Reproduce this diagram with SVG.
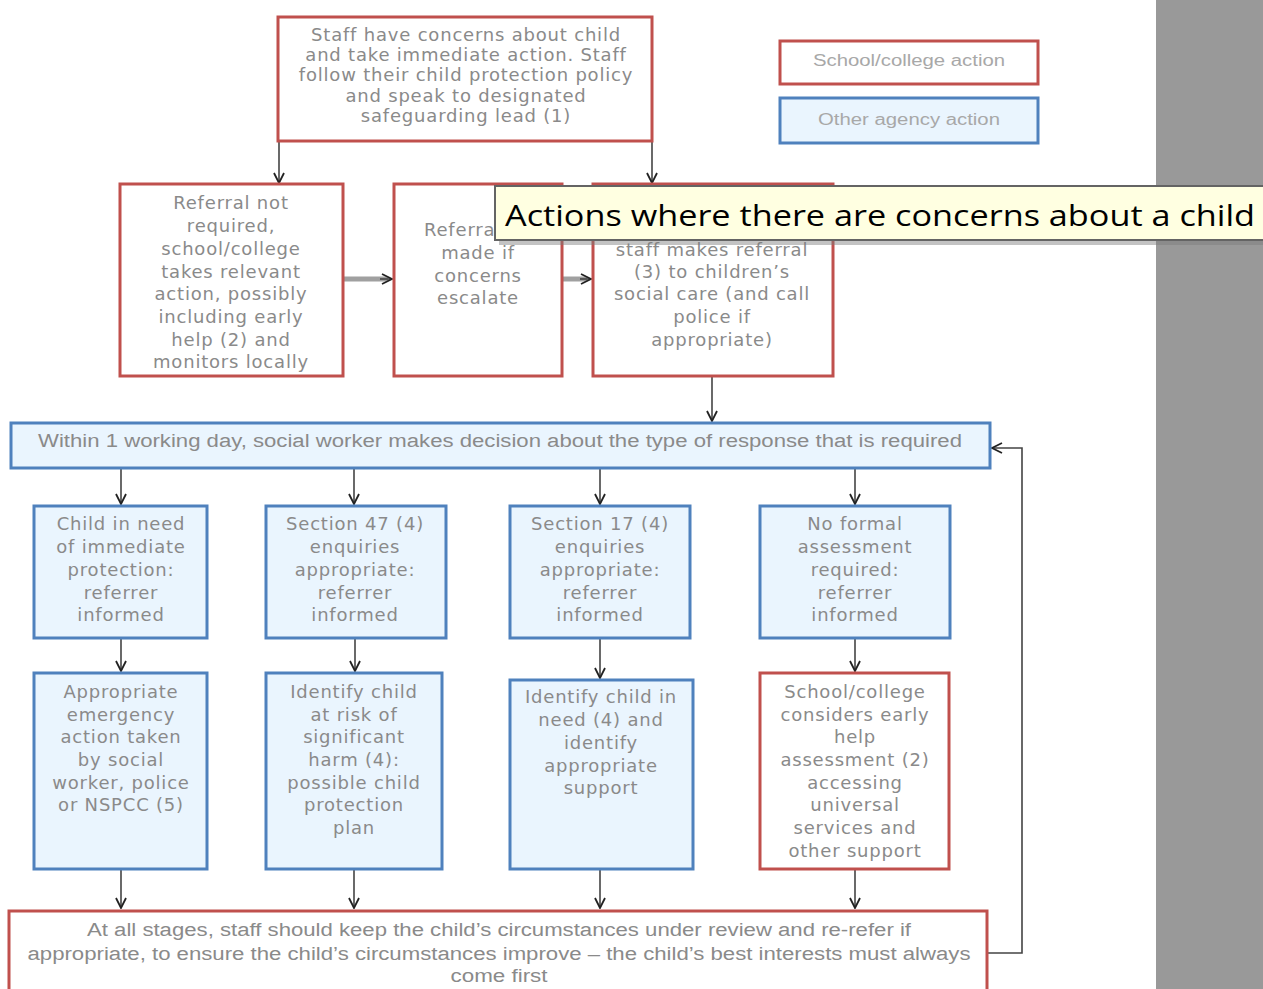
<svg xmlns="http://www.w3.org/2000/svg" width="1263" height="989" viewBox="0 0 1263 989">
<style>
.red{fill:#ffffff;stroke:#c0504d;stroke-width:3}
.blue{fill:#eaf5fe;stroke:#4f81bd;stroke-width:3}
.t{font-family:"DejaVu Sans",Verdana,sans-serif;font-size:18px;letter-spacing:0.8px;fill:#8a8a8a;text-anchor:middle}
.n{font-family:"Liberation Sans",Arial,sans-serif;font-size:18px;fill:#8a8a8a;text-anchor:middle}
.lg{font-family:"Liberation Sans",Arial,sans-serif;font-size:16px;fill:#a8a8a8;text-anchor:middle}
.c{fill:none;stroke:#444;stroke-width:1.6}
.thick{fill:none;stroke:#a0a0a0;stroke-width:5}
.tip{font-family:"Open Sans","DejaVu Sans",sans-serif;font-size:30px;fill:#000}
</style>
<defs>
<marker id="ah" viewBox="0 0 12 12" refX="11" refY="6" markerWidth="12" markerHeight="12" markerUnits="userSpaceOnUse" orient="auto">
<path d="M1,1 L11,6 L1,11" fill="none" stroke="#222" stroke-width="1.8"/>
</marker>
</defs>
<rect width="1263" height="989" fill="#ffffff"/>
<rect x="1156" y="0" width="107" height="989" fill="#999999"/>

<g id="connectors">
<path class="c" d="M279,141 V183" marker-end="url(#ah)"/>
<path class="c" d="M652,141 V183" marker-end="url(#ah)"/>
<path class="thick" d="M343,279 H388"/>
<path class="c" d="M380,279 H392" marker-end="url(#ah)"/>
<path class="thick" d="M562,279 H587"/>
<path class="c" d="M580,279 H591" marker-end="url(#ah)"/>
<path class="c" d="M712,376 V421" marker-end="url(#ah)"/>
<path class="c" d="M121,468 V504" marker-end="url(#ah)"/>
<path class="c" d="M354,468 V504" marker-end="url(#ah)"/>
<path class="c" d="M600,468 V504" marker-end="url(#ah)"/>
<path class="c" d="M855,468 V504" marker-end="url(#ah)"/>
<path class="c" d="M121,638 V671" marker-end="url(#ah)"/>
<path class="c" d="M355,638 V671" marker-end="url(#ah)"/>
<path class="c" d="M600,638 V678" marker-end="url(#ah)"/>
<path class="c" d="M855,638 V671" marker-end="url(#ah)"/>
<path class="c" d="M121,869 V908" marker-end="url(#ah)"/>
<path class="c" d="M354,869 V908" marker-end="url(#ah)"/>
<path class="c" d="M600,869 V908" marker-end="url(#ah)"/>
<path class="c" d="M855,869 V908" marker-end="url(#ah)"/>
<path class="c" d="M988,953 H1022 V448 H992" marker-end="url(#ah)"/>
</g>

<g id="top">
<rect class="red" x="278" y="17" width="374" height="124"/>
<text class="t" x="466" y="41">Staff have concerns about child</text>
<text class="t" x="466" y="61">and take immediate action. Staff</text>
<text class="t" x="466" y="81">follow their child protection policy</text>
<text class="t" x="466" y="102">and speak to designated</text>
<text class="t" x="466" y="122">safeguarding lead (1)</text>
</g>

<g id="legend-school">
<rect class="red" x="780" y="41" width="258" height="43"/>
<text class="lg" x="909" y="66" textLength="192" lengthAdjust="spacingAndGlyphs">School/college action</text>
</g>
<g id="legend-agency">
<rect class="blue" x="780" y="98" width="258" height="45"/>
<text class="lg" x="909" y="125" textLength="182" lengthAdjust="spacingAndGlyphs">Other agency action</text>
</g>

<g id="not-required">
<rect class="red" x="120" y="184" width="223" height="192"/>
<text class="t" x="231" y="209">Referral not</text>
<text class="t" x="231" y="232">required,</text>
<text class="t" x="231" y="255">school/college</text>
<text class="t" x="231" y="278">takes relevant</text>
<text class="t" x="231" y="300">action, possibly</text>
<text class="t" x="231" y="323">including early</text>
<text class="t" x="231" y="346">help (2) and</text>
<text class="t" x="231" y="368">monitors locally</text>
</g>

<g id="escalate">
<rect class="red" x="394" y="184" width="168" height="192"/>
<text class="t" x="424" y="236" style="text-anchor:start">Referra</text>
<text class="t" x="478" y="259">made if</text>
<text class="t" x="478" y="282">concerns</text>
<text class="t" x="478" y="304">escalate</text>
</g>

<g id="referral">
<rect class="red" x="593" y="184" width="240" height="192"/>
<text class="t" x="712" y="256">staff makes referral</text>
<text class="t" x="712" y="278">(3) to children’s</text>
<text class="t" x="712" y="300">social care (and call</text>
<text class="t" x="712" y="323">police  if</text>
<text class="t" x="712" y="346">appropriate)</text>
</g>

<g id="decision">
<rect class="blue" x="11" y="423" width="979" height="45"/>
<text class="n" x="500" y="447" textLength="924" lengthAdjust="spacingAndGlyphs">Within 1 working day, social worker makes decision about the type of response that is required</text>
</g>

<g id="immediate">
<rect class="blue" x="34" y="506" width="173" height="132"/>
<text class="t" x="121" y="530">Child in need</text>
<text class="t" x="121" y="553">of immediate</text>
<text class="t" x="121" y="576">protection:</text>
<text class="t" x="121" y="599">referrer</text>
<text class="t" x="121" y="621">informed</text>
</g>
<g id="s47">
<rect class="blue" x="266" y="506" width="180" height="132"/>
<text class="t" x="355" y="530">Section 47 (4)</text>
<text class="t" x="355" y="553">enquiries</text>
<text class="t" x="355" y="576">appropriate:</text>
<text class="t" x="355" y="599">referrer</text>
<text class="t" x="355" y="621">informed</text>
</g>
<g id="s17">
<rect class="blue" x="510" y="506" width="180" height="132"/>
<text class="t" x="600" y="530">Section 17 (4)</text>
<text class="t" x="600" y="553">enquiries</text>
<text class="t" x="600" y="576">appropriate:</text>
<text class="t" x="600" y="599">referrer</text>
<text class="t" x="600" y="621">informed</text>
</g>
<g id="no-formal">
<rect class="blue" x="760" y="506" width="190" height="132"/>
<text class="t" x="855" y="530">No formal</text>
<text class="t" x="855" y="553">assessment</text>
<text class="t" x="855" y="576">required:</text>
<text class="t" x="855" y="599">referrer</text>
<text class="t" x="855" y="621">informed</text>
</g>

<g id="emergency">
<rect class="blue" x="34" y="673" width="173" height="196"/>
<text class="t" x="121" y="698">Appropriate</text>
<text class="t" x="121" y="721">emergency</text>
<text class="t" x="121" y="743">action taken</text>
<text class="t" x="121" y="766">by social</text>
<text class="t" x="121" y="789">worker, police</text>
<text class="t" x="121" y="811">or NSPCC (5)</text>
</g>
<g id="harm">
<rect class="blue" x="266" y="673" width="176" height="196"/>
<text class="t" x="354" y="698">Identify child</text>
<text class="t" x="354" y="721">at risk of</text>
<text class="t" x="354" y="743">significant</text>
<text class="t" x="354" y="766">harm (4):</text>
<text class="t" x="354" y="789">possible child</text>
<text class="t" x="354" y="811">protection</text>
<text class="t" x="354" y="834">plan</text>
</g>
<g id="in-need">
<rect class="blue" x="510" y="680" width="183" height="189"/>
<text class="t" x="601" y="703">Identify child in</text>
<text class="t" x="601" y="726">need (4) and</text>
<text class="t" x="601" y="749">identify</text>
<text class="t" x="601" y="772">appropriate</text>
<text class="t" x="601" y="794">support</text>
</g>
<g id="early-help">
<rect class="red" x="760" y="673" width="189" height="196"/>
<text class="t" x="855" y="698">School/college</text>
<text class="t" x="855" y="721">considers early</text>
<text class="t" x="855" y="743">help</text>
<text class="t" x="855" y="766">assessment (2)</text>
<text class="t" x="855" y="789">accessing</text>
<text class="t" x="855" y="811">universal</text>
<text class="t" x="855" y="834">services and</text>
<text class="t" x="855" y="857">other support</text>
</g>

<g id="review">
<rect class="red" x="9" y="911" width="978" height="95"/>
<text class="n" x="499" y="936" textLength="824" lengthAdjust="spacingAndGlyphs">At all stages, staff should keep the child’s circumstances under review and re-refer if</text>
<text class="n" x="499" y="960" textLength="943" lengthAdjust="spacingAndGlyphs">appropriate, to ensure the child’s circumstances improve – the child’s best interests must always</text>
<text class="n" x="499" y="982" textLength="97" lengthAdjust="spacingAndGlyphs">come first</text>
</g>

<g id="tooltip">
<rect x="499" y="190" width="780" height="55" fill="#7a7a7a" opacity="0.45"/>
<rect x="495" y="186" width="780" height="54" fill="#ffffe1" stroke="#646464" stroke-width="2"/>
<text class="tip" x="505" y="226" textLength="750" lengthAdjust="spacingAndGlyphs">Actions where there are concerns about a child</text>
</g>
</svg>
